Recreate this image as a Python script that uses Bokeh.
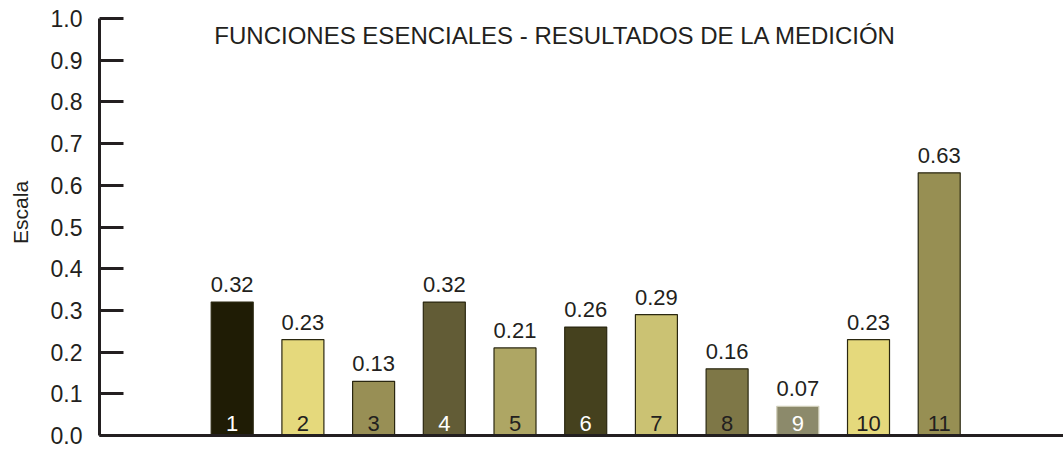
from bokeh.plotting import figure
from bokeh.models import ColumnDataSource, Range1d, FixedTicker, LabelSet, Label
from bokeh.core.properties import value
from bokeh.embed import file_html
from bokeh.resources import INLINE

# ---- data ----
categories = ["1", "2", "3", "4", "5", "6", "7", "8", "9", "10", "11"]
values = [0.32, 0.23, 0.13, 0.32, 0.21, 0.26, 0.29, 0.16, 0.07, 0.23, 0.63]
bar_colors = ["#1f1c05", "#e5d97c", "#988f55", "#625c36", "#aea664", "#45411e",
              "#cbc273", "#7e7747", "#8c8a6b", "#e5d97c", "#978f53"]
bar_line_colors = ["#2a2710"] * 8 + ["#cfcdb8"] + ["#2a2710"] * 2
inner_text_colors = ["#ffffff", "#231f20", "#231f20", "#ffffff", "#231f20", "#ffffff",
                     "#231f20", "#231f20", "#ffffff", "#231f20", "#231f20"]
value_labels = ["%.2f" % v for v in values]
y_ticks = [0.0, 0.1, 0.2, 0.3, 0.4, 0.5, 0.6, 0.7, 0.8, 0.9, 1.0]
y_tick_labels = ["0.0", "0.1", "0.2", "0.3", "0.4", "0.5", "0.6", "0.7", "0.8", "0.9", "1.0"]
title_text = "FUNCIONES ESENCIALES - RESULTADOS DE LA MEDICIÓN"
y_label = "Escala"

INK = "#231f20"
FONT = value("Liberation Sans")

x_pos = list(range(1, len(categories) + 1))
src = ColumnDataSource(dict(x=x_pos, top=values, color=bar_colors, line=bar_line_colors,
                            cat=categories, vlab=value_labels, tcol=inner_text_colors,
                            zero=[0.0] * len(values)))

p = figure(width=1063, height=450, output_backend="svg", toolbar_location=None,
           x_range=Range1d(-0.877, 12.758), y_range=Range1d(0.0, 1.0),
           min_border_left=99, min_border_right=0, min_border_top=18, min_border_bottom=15)
p.outline_line_color = None
p.grid.visible = False
p.background_fill_color = "white"

p.vbar(x="x", top="top", bottom=0, width=0.594, fill_color="color", line_color="line",
       line_width=1.2, source=src)

# y axis
ya = p.yaxis[0]
ya.ticker = FixedTicker(ticks=y_ticks)
ya.major_label_overrides = {t: s for t, s in zip(y_ticks, y_tick_labels)}
ya.major_tick_in = 24
ya.major_tick_out = 0
ya.minor_tick_line_color = None
ya.major_tick_line_width = 3
ya.major_tick_line_color = INK
ya.axis_line_width = 3
ya.axis_line_color = INK
ya.major_label_text_font = "Liberation Sans"
ya.major_label_text_font_size = "23px"
ya.major_label_text_color = INK
ya.major_label_standoff = 17
ya.axis_label = "\u00a0" * 5 + y_label
ya.axis_label_text_font = "Liberation Sans"
ya.axis_label_text_font_size = "21px"
ya.axis_label_text_font_style = "normal"
ya.axis_label_text_color = INK
ya.axis_label_standoff = 16

# x axis (line only)
xa = p.xaxis[0]
xa.ticker = FixedTicker(ticks=[])
xa.major_tick_in = 0
xa.major_tick_out = 0
xa.minor_tick_line_color = None
xa.major_tick_line_color = None
xa.major_label_standoff = 0
xa.axis_line_width = 3
xa.axis_line_color = INK

# value labels above bars
p.add_layout(LabelSet(x="x", y="top", text="vlab", source=src, y_offset=10,
                      text_align="center", text_baseline="alphabetic", text_font=FONT,
                      text_font_size="22px", text_color=INK))

# category numbers inside bars
p.add_layout(LabelSet(x="x", y="zero", text="cat", source=src, y_offset=5,
                      text_align="center", text_baseline="alphabetic", text_font=FONT,
                      text_font_size="22px", text_color="tcol"))

# title inside plot
p.add_layout(Label(x=5.57, y=0.96, text=title_text, text_align="center",
                   text_baseline="alphabetic", text_font="Liberation Sans",
                   text_font_size="24px", text_color=INK))

open("out.html", "w").write(file_html(p, INLINE))
